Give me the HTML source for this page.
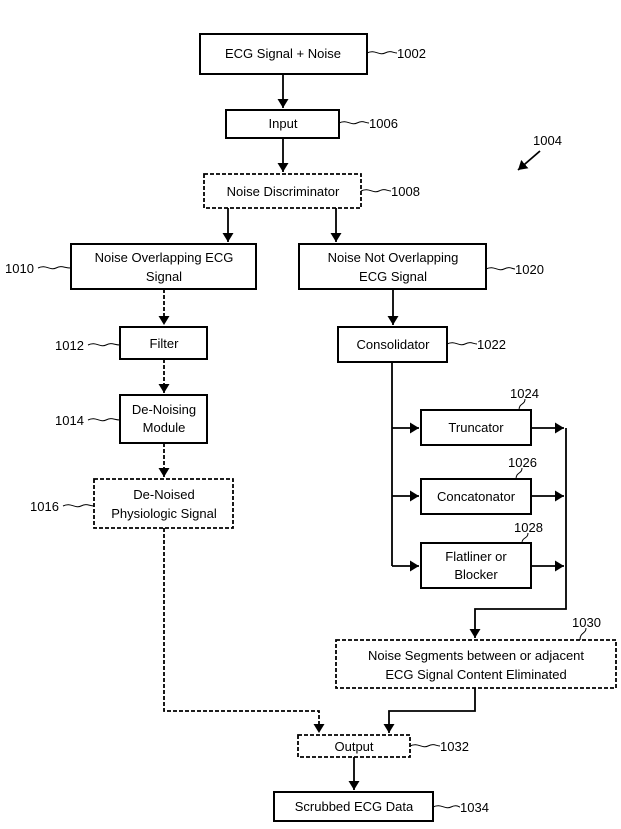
<!DOCTYPE html>
<html><head><style>body{margin:0;background:#fff}svg{display:block}text{font-family:"Liberation Sans",sans-serif;font-size:13px;fill:#000}</style></head><body>
<svg width="621" height="829" viewBox="0 0 621 829" xmlns="http://www.w3.org/2000/svg">
<defs><marker id="a" markerWidth="9" markerHeight="11" refX="9" refY="5.5" orient="auto" markerUnits="userSpaceOnUse"><path d="M0,0 L9,5.5 L0,11 z" fill="#000"/></marker></defs>
<g fill="none" stroke="#000" stroke-width="1.8">
<rect x="200" y="34" width="167" height="40" stroke-width="2"/>
<rect x="226" y="110" width="113" height="28" stroke-width="2"/>
<rect x="204" y="174" width="157" height="34" stroke-dasharray="4,2"/>
<rect x="71" y="244" width="185" height="45" stroke-width="2"/>
<rect x="299" y="244" width="187" height="45" stroke-width="2"/>
<rect x="120" y="327" width="87" height="32" stroke-width="2"/>
<rect x="120" y="395" width="87" height="48" stroke-width="2"/>
<rect x="94" y="479" width="139" height="49" stroke-dasharray="4,2"/>
<rect x="338" y="327" width="109" height="35" stroke-width="2"/>
<rect x="421" y="410" width="110" height="35" stroke-width="2"/>
<rect x="421" y="479" width="110" height="35" stroke-width="2"/>
<rect x="421" y="543" width="110" height="45" stroke-width="2"/>
<rect x="336" y="640" width="280" height="48" stroke-dasharray="4,2"/>
<rect x="298" y="735" width="112" height="22" stroke-dasharray="4,2"/>
<rect x="274" y="792" width="159" height="29" stroke-width="2"/>
<g marker-end="url(#a)">
<path d="M283 74V108"/><path d="M283 138V172"/><path d="M228 208V242"/><path d="M336 208V242"/><path d="M393 289V325"/>
<path d="M164 289V325" stroke-dasharray="4,2"/><path d="M164 359V393" stroke-dasharray="4,2"/><path d="M164 443V477" stroke-dasharray="4,2"/>
<path d="M392 428H419"/><path d="M392 496H419"/><path d="M392 566H419"/>
<path d="M531 428H564"/><path d="M531 496H564"/><path d="M531 566H564"/>
<path d="M566 428V609H475V638"/>
<path d="M164 528V711H319V733" stroke-dasharray="4,2"/>
<path d="M475 688V711H389V733"/>
<path d="M354 757V790"/>
<path d="M540 151L518 170"/>
</g>
<path d="M392 362V566"/>
<g stroke-width="1">
<path d="M367 53c8-4 12 3 18 0s8 0 12 0"/>
<path d="M339 123c8-4 12 3 18 0s8 0 12 0"/>
<path d="M361 191c8-4 12 3 18 0s8 0 12 0"/>
<path d="M38 268c8-4 12 3 18 0s8 0 15 0"/>
<path d="M486 269c8-4 12 3 18 0s8 0 11 0"/>
<path d="M88 345c8-4 12 3 18 0s8 0 14 0"/>
<path d="M88 420c8-4 12 3 18 0s8 0 14 0"/>
<path d="M63 506c8-4 12 3 18 0s8 0 13 0"/>
<path d="M447 344c8-4 12 3 18 0s8 0 12 0"/>
<path d="M410 746c8-4 12 3 18 0s8 0 12 0"/>
<path d="M433 807c8-4 12 3 18 0s8 0 9 0"/>
<path d="M525 399c0 6-6 4-6 11"/>
<path d="M522 468c0 6-6 4-6 11"/>
<path d="M528 533c0 6-6 4-6 10"/>
<path d="M586 628c0 6-6 4-6 12"/>
</g></g>
<g text-anchor="middle">
<text x="283" y="58">ECG Signal + Noise</text>
<text x="283" y="128">Input</text>
<text x="283" y="196">Noise Discriminator</text>
<text x="164" y="262">Noise Overlapping ECG</text><text x="164" y="281">Signal</text>
<text x="393" y="262">Noise Not Overlapping</text><text x="393" y="281">ECG Signal</text>
<text x="164" y="348">Filter</text>
<text x="164" y="414">De-Noising</text><text x="164" y="432">Module</text>
<text x="164" y="499">De-Noised</text><text x="164" y="518">Physiologic Signal</text>
<text x="393" y="349">Consolidator</text>
<text x="476" y="432">Truncator</text>
<text x="476" y="501">Concatonator</text>
<text x="476" y="561">Flatliner or</text><text x="476" y="579">Blocker</text>
<text x="476" y="660">Noise Segments between or adjacent</text><text x="476" y="679">ECG Signal Content Eliminated</text>
<text x="354" y="751">Output</text>
<text x="354" y="811">Scrubbed ECG Data</text>
</g>
<text x="397" y="58">1002</text>
<text x="369" y="128">1006</text>
<text x="391" y="196">1008</text>
<text x="5" y="273">1010</text>
<text x="515" y="274">1020</text>
<text x="533" y="145">1004</text>
<text x="55" y="350">1012</text>
<text x="55" y="425">1014</text>
<text x="30" y="511">1016</text>
<text x="477" y="349">1022</text>
<text x="510" y="398">1024</text>
<text x="508" y="467">1026</text>
<text x="514" y="532">1028</text>
<text x="572" y="627">1030</text>
<text x="440" y="751">1032</text>
<text x="460" y="812">1034</text>
</svg>
</body></html>
